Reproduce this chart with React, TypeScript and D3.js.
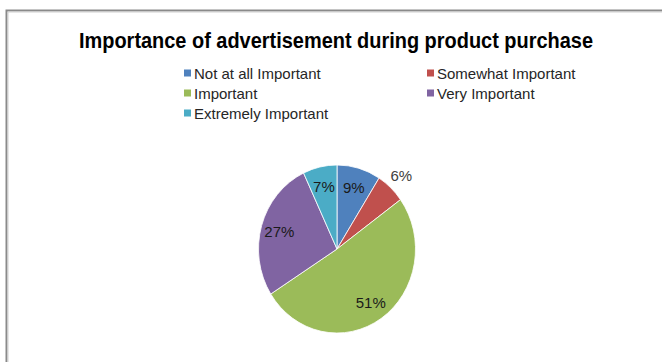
import React, { useEffect, useRef } from "react";
import * as d3 from "d3";

const title = "Importance of advertisement during product purchase";
const categories = ["Not at all Important", "Somewhat Important", "Important", "Very Important", "Extremely Important"];
const values = [9, 6, 51, 27, 7];
const colors = ["#4F81BD", "#C0504D", "#9BBB59", "#8064A2", "#4BACC6"];

const W = 662;
const H = 362;

export default function App() {
  const ref = useRef<SVGSVGElement>(null);

  useEffect(() => {
    const svg = d3.select(ref.current);
    svg.selectAll("*").remove();

    svg.append("rect").attr("x", 0).attr("y", 0).attr("width", W).attr("height", H).attr("fill", "#fff");
    // chart border
    svg.append("rect")
      .attr("x", 6.5).attr("y", 10.5)
      .attr("width", W + 20).attr("height", H + 20)
      .attr("fill", "#fff")
      .attr("stroke", "#8a8a8a").attr("stroke-width", 2);
    svg.append("rect")
      .attr("x", 8).attr("y", 12)
      .attr("width", W + 20).attr("height", H + 20)
      .attr("fill", "none")
      .attr("stroke", "#d0d0d0").attr("stroke-width", 1);

    svg.append("text")
      .attr("x", 336).attr("y", 48)
      .attr("text-anchor", "middle")
      .attr("font-family", "Liberation Sans, Arial, sans-serif")
      .attr("font-weight", "bold")
      .attr("font-size", 22)
      .attr("fill", "#000")
      .attr("textLength", 514)
      .attr("lengthAdjust", "spacingAndGlyphs")
      .text(title);

    // legend
    const colX = [184, 427];
    const rowY = [73, 93, 113];
    const leg = svg.append("g");
    categories.forEach((c, i) => {
      const x = colX[i % 2];
      const y = rowY[Math.floor(i / 2)];
      leg.append("rect").attr("x", x).attr("y", y - 3.5).attr("width", 7).attr("height", 7).attr("fill", colors[i]);
      leg.append("text")
        .attr("x", x + 10).attr("y", y + 5.5)
        .attr("font-family", "Liberation Sans, Arial, sans-serif")
        .attr("font-size", 15)
        .attr("fill", "#262626")
        .text(c);
    });

    // pie
    const cx = 337, cy = 249, r = 78.5, sy = 84 / 78.5;
    const pie = d3.pie<number>().sort(null).value((d) => d);
    const arcs = pie(values);
    const arc = d3.arc<d3.PieArcDatum<number>>().innerRadius(0).outerRadius(r);
    const g = svg.append("g").attr("transform", `translate(${cx},${cy}) scale(1,${sy})`);
    g.selectAll("path").data(arcs).enter().append("path")
      .attr("d", arc as any)
      .attr("fill", (_, i) => colors[i])
      .attr("stroke", "#fff").attr("stroke-width", 0.8)
      .attr("vector-effect", "non-scaling-stroke");

    const inner = d3.arc<d3.PieArcDatum<number>>().innerRadius(60).outerRadius(60);
    const outer = d3.arc<d3.PieArcDatum<number>>().innerRadius(94).outerRadius(94);
    const total = d3.sum(values);
    arcs.forEach((a) => {
      const isOut = a.data < 7;
      const [px, py] = (isOut ? outer : inner).centroid(a);
      svg.append("text")
        .attr("x", cx + px).attr("y", cy + py * sy + 5.5)
        .attr("text-anchor", "middle")
        .attr("font-family", "Liberation Sans, Arial, sans-serif")
        .attr("font-size", 15)
        .attr("fill", isOut ? "#404040" : "#1a1a1a")
        .text(`${Math.round((a.data / total) * 100)}%`);
    });
  }, []);

  return (
    <svg ref={ref} width={W} height={H} style={{ position: "absolute", left: 0, top: 0, display: "block" }} />
  );
}
